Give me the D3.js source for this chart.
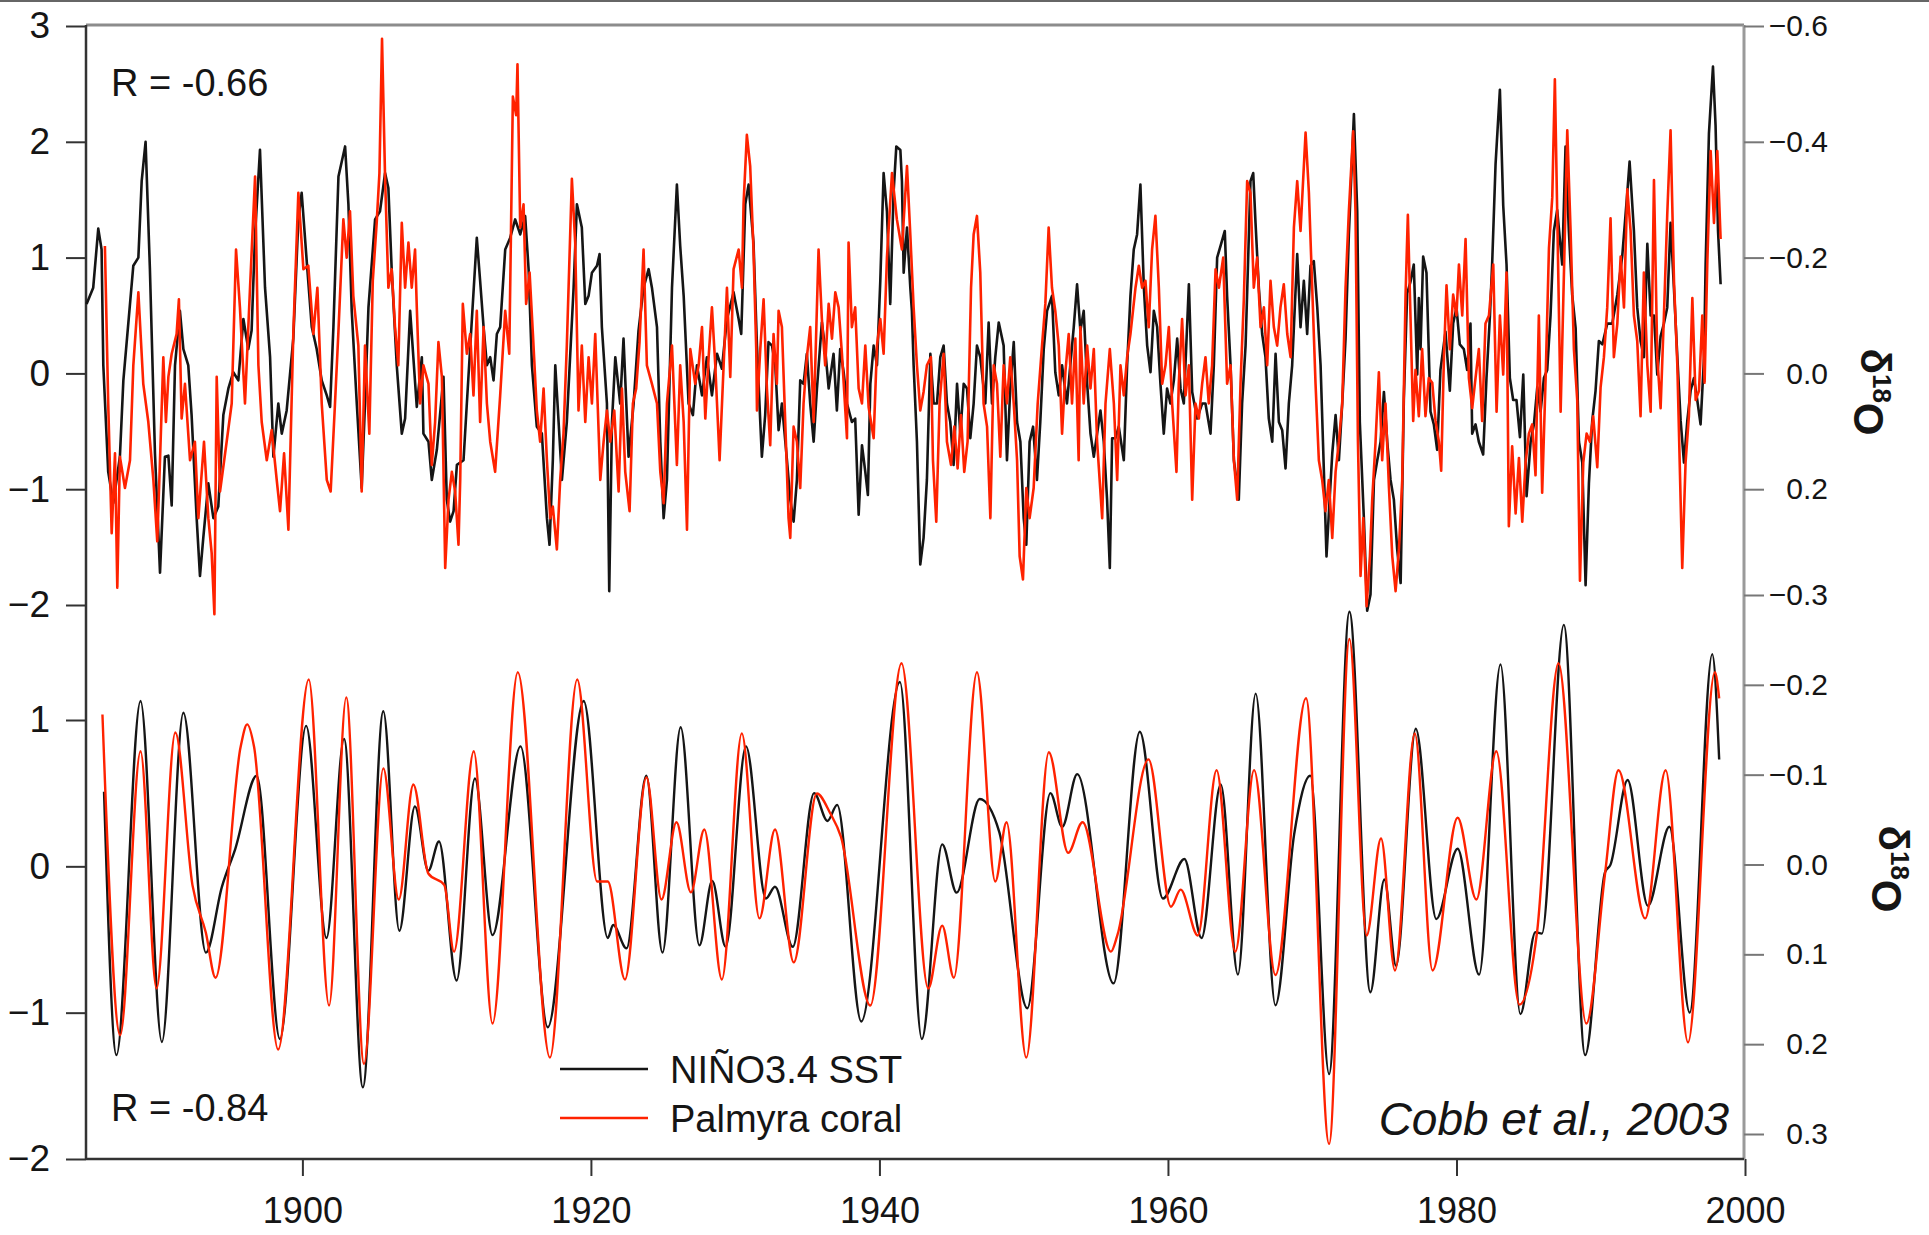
<!DOCTYPE html>
<html>
<head>
<meta charset="utf-8">
<script src="https://cdn.jsdelivr.net/npm/d3@7"></script>
<style>
  body { margin: 0; background: #fff; }
  svg { display: block; font-family: "Liberation Sans", Arial, sans-serif; }
</style>
</head>
<body>
<svg id="chart" width="1929" height="1235"></svg>
<script>
// NINO3.4 SST anomaly (monthly, top panel) - [year, degC]
var sstRaw = [[1885.04,0.60],[1885.50,0.74],[1885.85,1.25],[1886.08,1.07],[1886.20,0.07],[1886.54,-0.85],[1886.89,-1.12],[1887.35,-0.72],[1887.59,-0.06],[1888.28,0.93],[1888.63,1.00],[1888.86,1.66],[1889.13,2.00],[1889.43,0.90],[1889.78,-0.69],[1890.13,-1.72],[1890.47,-0.72],[1890.71,-0.71],[1890.94,-1.14],[1891.17,0.07],[1891.51,0.54],[1891.75,0.21],[1892.09,0.07],[1892.32,-0.36],[1892.67,-1.25],[1892.90,-1.75],[1893.13,-1.42],[1893.48,-0.95],[1893.83,-1.25],[1894.17,-1.15],[1894.52,-0.36],[1894.87,-0.13],[1895.21,0.01],[1895.56,-0.06],[1895.91,0.47],[1896.25,0.21],[1896.48,0.37],[1896.72,1.20],[1897.06,1.93],[1897.41,0.74],[1897.76,0.14],[1897.99,-0.72],[1898.33,-0.26],[1898.57,-0.52],[1898.91,-0.32],[1899.37,0.30],[1899.72,1.33],[1899.95,1.56],[1900.30,0.97],[1900.65,0.40],[1900.99,0.21],[1901.34,-0.06],[1901.69,-0.19],[1901.92,-0.29],[1902.15,0.40],[1902.50,1.70],[1902.96,1.96],[1903.19,1.46],[1903.42,0.54],[1903.77,-0.26],[1904.11,-0.99],[1904.34,-0.26],[1904.58,0.57],[1905.04,1.33],[1905.38,1.40],[1905.73,1.73],[1905.96,1.60],[1906.19,0.90],[1906.54,0.07],[1906.89,-0.52],[1907.12,-0.39],[1907.47,0.54],[1907.93,-0.29],
[1908.28,0.14],[1908.39,-0.52],[1908.74,-0.59],[1908.97,-0.92],[1909.32,-0.66],[1909.78,-0.03],[1910.01,-1.09],[1910.24,-1.28],[1910.48,-1.19],[1910.71,-0.79],[1911.17,-0.75],[1911.40,-0.26],[1911.75,0.47],[1912.09,1.17],[1912.32,0.80],[1912.56,0.40],[1912.79,0.07],[1913.02,0.14],[1913.25,-0.06],[1913.48,0.34],[1913.71,0.40],[1914.06,1.07],[1914.40,1.17],[1914.75,1.33],[1915.10,1.20],[1915.44,1.36],[1915.68,0.90],[1915.91,0.07],[1916.25,-0.46],[1916.60,-0.52],[1916.95,-1.25],[1917.13,-1.48],[1917.36,-0.75],[1917.53,0.07],[1917.76,-0.42],[1917.99,-0.92],[1918.33,-0.42],[1918.80,0.74],[1919.03,1.46],[1919.37,1.26],[1919.61,0.60],[1919.84,0.67],[1920.07,0.87],[1920.42,0.93],[1920.60,1.03],[1920.76,0.40],[1921.11,-0.26],[1921.27,-1.88],[1921.46,-0.42],[1921.69,0.14],[1922.03,-0.26],[1922.26,0.30],[1922.61,-0.72],[1922.96,-0.26],[1923.30,0.37],[1923.65,0.74],[1924.00,0.90],[1924.23,0.74],[1924.58,0.40],[1924.81,-0.59],[1925.04,-1.25],[1925.27,-0.92],[1925.62,0.74],[1925.96,1.63],[1926.19,1.10],[1926.43,0.67],[1926.77,-0.26],[1927.07,-0.36],[1927.35,0.07],[1927.70,-0.19],[1928.04,0.14],[1928.39,-0.19],[1928.74,0.17],[1929.08,0.04],[1929.43,0.47],[1929.89,0.70],[1930.24,0.47],[1930.42,0.34],
[1930.70,1.46],[1930.93,1.63],[1931.27,1.13],[1931.51,0.24],[1931.74,-0.42],[1931.85,-0.72],[1932.08,-0.36],[1932.31,0.27],[1932.55,0.24],[1932.78,0.07],[1933.01,-0.49],[1933.24,-0.26],[1933.59,-0.75],[1933.82,-1.09],[1934.05,-1.28],[1934.28,-0.92],[1934.51,-0.06],[1934.74,-0.09],[1934.97,0.17],[1935.20,-0.26],[1935.44,-0.59],[1935.67,-0.13],[1936.01,0.44],[1936.24,0.21],[1936.48,-0.13],[1936.82,0.17],[1937.05,-0.32],[1937.28,0.21],[1937.52,0.01],[1937.75,-0.26],[1938.09,-0.42],[1938.32,-0.39],[1938.56,-1.22],[1938.79,-0.62],[1939.02,-0.85],[1939.20,-1.05],[1939.37,-0.09],[1939.60,0.24],[1939.83,0.07],[1940.06,0.80],[1940.29,1.73],[1940.52,1.40],[1940.75,0.60],[1940.98,1.56],[1941.17,1.96],[1941.45,1.93],[1941.56,1.66],[1941.68,0.87],[1941.91,1.26],[1942.14,0.74],[1942.25,0.54],[1942.37,0.07],[1942.60,-0.59],[1942.83,-1.65],[1943.06,-1.42],[1943.29,-0.92],[1943.53,0.17],[1943.76,-0.26],[1943.99,-0.26],[1944.22,0.14],[1944.45,0.24],[1944.68,-0.26],[1944.91,-0.42],[1945.14,-0.79],[1945.38,-0.09],[1945.61,-0.52],[1945.84,-0.09],[1946.07,-0.13],[1946.30,-0.56],[1946.53,-0.26],[1946.76,0.24],[1946.99,0.14],[1947.34,-0.26],[1947.57,0.44],[1947.80,-0.26],[1948.03,0.14],[1948.27,0.44],[1948.61,0.24],[1948.84,-0.75],[1949.07,-0.13],[1949.31,0.27],[1949.54,-0.42],[1949.77,-0.59],[1950.00,-1.25],[1950.18,-1.48],[1950.41,-0.59],[1950.65,-0.46],[1950.92,-0.92],[1951.15,-0.42],[1951.39,0.21],[1951.62,0.54],[1951.96,0.67],[1952.19,0.01],[1952.43,-0.19],[1952.66,0.07],[1953.00,-0.26],[1953.23,0.07],
[1953.47,0.40],[1953.70,0.77],[1953.93,0.37],[1954.16,0.54],[1954.40,-0.09],[1954.63,-0.52],[1954.86,-0.72],[1955.09,-0.52],[1955.32,-0.32],[1955.55,-0.59],[1955.78,-1.09],[1955.97,-1.68],[1956.13,-0.56],[1956.36,-0.56],[1956.59,-0.46],[1956.94,-0.75],[1957.17,0.07],[1957.40,0.67],[1957.63,1.07],[1957.86,1.20],[1958.09,1.63],[1958.33,0.74],[1958.56,0.24],[1958.79,0.01],[1959.02,0.54],[1959.25,0.40],[1959.48,-0.09],[1959.71,-0.52],[1959.94,-0.13],[1960.17,-0.26],[1960.41,-0.06],[1960.64,0.30],[1960.87,-0.13],[1961.10,-0.26],[1961.45,0.77],[1961.68,-0.16],[1962.02,-0.39],[1962.37,-0.26],[1962.60,-0.26],[1962.95,-0.52],[1963.18,0.07],[1963.41,1.00],[1963.64,1.10],[1963.94,1.23],[1964.10,0.67],[1964.34,0.07],[1964.57,-0.75],[1964.91,-1.09],[1965.14,-0.26],[1965.38,0.24],[1965.72,1.66],[1965.91,1.73],[1966.07,1.30],[1966.30,0.74],[1966.53,0.34],[1966.76,0.14],[1966.99,-0.39],[1967.23,-0.59],[1967.46,0.17],[1967.69,-0.42],[1967.92,-0.49],[1968.15,-0.82],[1968.38,-0.26],[1968.61,0.07],[1968.96,1.03],[1969.19,0.40],[1969.42,0.80],[1969.65,0.34],[1969.88,0.93],[1970.11,0.97],[1970.35,0.57],[1970.58,0.07],[1970.81,-0.85],[1970.99,-1.58],[1971.16,-1.19],[1971.39,-0.69],[1971.62,-0.36],[1971.85,-0.75],[1972.08,-0.26],[1972.31,0.30],[1972.54,1.20],[1972.89,2.24],[1973.12,1.40],[1973.30,-0.42],[1973.58,-1.25],[1973.81,-2.05],[1974.04,-1.91],[1974.28,-0.92],[1974.51,-0.75],[1974.74,-0.59],[1974.97,-0.16],[1975.20,-0.59],[1975.43,-0.92],[1975.66,-1.09],[1975.89,-1.52],[1976.13,-1.81],
[1976.35,-0.23],[1976.58,0.69],[1976.81,0.79],[1977.04,0.94],[1977.28,-0.01],[1977.39,0.65],[1977.51,0.21],[1977.69,1.01],[1977.92,0.87],[1978.20,-0.33],[1978.43,-0.44],[1978.66,-0.66],[1978.89,0.03],[1979.24,0.36],[1979.54,-0.15],[1979.77,0.43],[1980.00,0.57],[1980.23,0.25],[1980.51,0.21],[1980.74,0.03],[1980.97,0.43],[1981.09,-0.52],[1981.32,-0.44],[1981.55,-0.59],[1981.85,-0.70],[1982.08,-0.04],[1982.32,0.50],[1982.48,0.97],[1982.71,1.81],[1983.01,2.45],[1983.24,1.45],[1983.47,0.94],[1983.70,-0.04],[1983.93,-0.23],[1984.16,-0.23],[1984.40,-0.55],[1984.63,-0.01],[1984.86,-1.06],[1985.14,-0.59],[1985.37,-0.44],[1985.60,-0.12],[1985.83,-0.33],[1986.06,-0.04],[1986.29,0.03],[1986.52,0.50],[1986.75,1.23],[1986.98,1.41],[1987.33,0.94],[1987.56,1.96],[1987.79,1.23],[1988.02,0.68],[1988.26,0.39],[1988.49,-0.59],[1988.72,-0.77],[1988.95,-1.83],[1989.18,-0.95],[1989.41,-0.41],[1989.64,-0.15],[1989.87,0.28],[1990.11,0.25],[1990.45,0.43],[1990.80,0.43],[1991.15,0.68],[1991.49,1.01],[1991.84,1.56],[1992.00,1.83],[1992.30,1.23],[1992.53,0.57],[1992.76,0.28],[1992.99,0.14],[1993.23,1.12],[1993.46,0.50],[1993.69,0.50],[1993.92,-0.01],[1994.15,0.32],[1994.38,0.43],[1994.61,0.57],[1994.84,1.30],[1995.08,0.72],[1995.31,0.14],[1995.54,-0.41],[1995.77,-0.77],[1996.00,-0.41],[1996.23,-0.15],[1996.46,-0.04],[1996.69,-0.23],[1996.92,-0.44],[1997.16,0.14],[1997.27,0.94],[1997.50,2.07],[1997.78,2.65],[1997.96,2.14],[1998.13,1.23],[1998.31,0.77]];

// Palmyra coral d18O (top panel) - [year, permil]
var coralRaw = [[1886.31,-0.220],[1886.54,0.052],[1886.78,0.276],[1887.01,0.138],[1887.17,0.370],[1887.35,0.144],[1887.70,0.198],[1888.05,0.150],[1888.28,-0.014],[1888.63,-0.140],[1888.97,0.018],[1889.32,0.084],[1889.67,0.184],[1889.94,0.290],[1890.13,0.150],[1890.36,-0.028],[1890.54,0.084],[1890.71,0.006],[1890.94,-0.034],[1891.28,-0.068],[1891.44,-0.128],[1891.63,0.078],[1891.86,0.018],[1892.21,0.150],[1892.55,0.118],[1892.79,0.250],[1893.18,0.118],[1893.48,0.250],[1893.71,0.310],[1893.90,0.416],[1894.06,0.006],[1894.29,0.204],[1894.75,0.118],[1895.10,0.052],[1895.40,-0.214],[1895.67,-0.114],[1896.02,0.052],[1896.37,-0.148],[1896.72,-0.340],[1896.95,-0.014],[1897.18,0.084],[1897.53,0.150],[1897.87,0.098],[1898.22,0.184],[1898.45,0.238],[1898.73,0.138],[1899.03,0.270],[1899.37,-0.068],[1899.72,-0.312],[1900.07,-0.180],[1900.41,-0.186],[1900.76,-0.068],[1901.04,-0.148],[1901.34,0.052],[1901.69,0.184],[1901.96,0.204],[1902.26,0.052],[1902.49,-0.068],[1902.84,-0.266],[1903.07,-0.200],[1903.30,-0.280],[1903.53,-0.134],[1903.88,-0.048],[1904.11,0.204],[1904.34,-0.048],[1904.64,0.104],[1904.88,-0.160],[1905.15,-0.260],[1905.34,-0.346],[1905.52,-0.578],[1905.73,-0.340],[1905.96,-0.148],[1906.19,-0.180],[1906.42,-0.080],[1906.65,-0.014],[1906.89,-0.260],[1907.12,-0.148],[1907.35,-0.226],[1907.58,-0.148],[1907.81,-0.214],
[1907.93,-0.114],[1908.16,0.052],[1908.39,-0.014],[1908.74,0.018],[1908.97,0.158],[1909.20,0.084],[1909.43,-0.054],[1909.67,0.006],[1909.90,0.336],[1910.13,0.218],[1910.36,0.170],[1910.59,0.204],[1910.82,0.296],[1910.94,0.184],[1911.12,-0.120],[1911.40,-0.034],[1911.63,-0.068],[1911.86,0.038],[1912.09,-0.108],[1912.32,0.084],[1912.56,-0.080],[1912.79,0.052],[1913.02,0.118],[1913.36,0.170],[1913.71,0.038],[1914.06,-0.108],[1914.34,-0.034],[1914.59,-0.478],[1914.82,-0.446],[1914.91,-0.534],[1915.10,-0.252],[1915.33,-0.292],[1915.51,-0.120],[1915.75,-0.174],[1915.98,-0.068],[1916.25,0.064],[1916.48,0.118],[1916.72,0.026],[1916.95,0.150],[1917.18,0.250],[1917.36,0.230],[1917.64,0.304],[1917.87,0.184],[1918.10,0.104],[1918.33,-0.048],[1918.68,-0.336],[1918.91,-0.226],[1919.14,0.064],[1919.37,-0.048],[1919.61,0.084],[1919.84,-0.028],[1920.07,0.052],[1920.30,-0.068],[1920.65,0.184],[1920.88,0.118],[1921.11,0.064],[1921.34,0.118],[1921.62,0.064],[1921.92,0.204],[1922.15,0.026],[1922.38,0.170],[1922.68,0.238],[1922.91,0.052],[1923.14,0.026],[1923.37,-0.054],[1923.65,-0.214],[1923.88,-0.014],[1924.23,0.018],[1924.58,0.052],[1924.81,0.170],[1925.04,0.224],[1925.27,0.052],[1925.62,-0.048],[1925.96,0.158],[1926.19,-0.014],[1926.43,0.084],[1926.66,0.270],[1926.89,-0.042],[1927.23,0.018],[1927.47,-0.014],[1927.70,-0.080],[1927.93,0.078],[1928.16,-0.028],[1928.39,-0.114],[1928.62,-0.014],[1928.92,0.150],[1929.20,-0.014],[1929.43,-0.148],[1929.66,0.006],[1929.89,-0.180],[1930.24,-0.214],[1930.47,-0.148],
[1930.58,-0.292],[1930.81,-0.412],[1931.04,-0.358],[1931.27,-0.214],[1931.46,-0.042],[1931.51,0.064],[1931.74,-0.042],[1931.97,-0.128],[1932.20,0.026],[1932.43,0.124],[1932.66,-0.068],[1932.89,0.018],[1933.01,-0.108],[1933.24,-0.080],[1933.47,0.084],[1933.70,0.250],[1933.82,0.284],[1934.05,0.092],[1934.28,0.118],[1934.51,0.198],[1934.74,0.052],[1934.97,-0.028],[1935.20,-0.080],[1935.44,0.084],[1935.78,-0.214],[1936.01,-0.094],[1936.24,-0.014],[1936.48,-0.120],[1936.71,-0.060],[1936.94,-0.140],[1937.17,-0.114],[1937.40,-0.034],[1937.75,0.112],[1937.86,-0.226],[1938.09,-0.080],[1938.32,-0.114],[1938.56,0.026],[1938.79,0.052],[1939.02,-0.048],[1939.25,0.058],[1939.60,0.112],[1939.83,-0.048],[1940.06,-0.094],[1940.29,-0.034],[1940.52,-0.200],[1940.87,-0.346],[1941.21,-0.266],[1941.56,-0.214],[1941.91,-0.358],[1942.14,-0.240],[1942.37,-0.114],[1942.60,-0.014],[1942.83,0.064],[1943.06,0.032],[1943.29,-0.014],[1943.57,-0.028],[1943.71,0.150],[1943.94,0.256],[1944.17,0.052],[1944.45,-0.034],[1944.68,0.118],[1944.96,0.158],[1945.19,0.092],[1945.42,0.164],[1945.65,0.072],[1945.88,0.170],[1946.11,0.118],[1946.35,-0.148],[1946.53,-0.240],[1946.76,-0.272],[1946.99,-0.174],[1947.22,0.052],[1947.46,0.092],[1947.69,0.250],[1947.92,-0.014],[1948.15,0.018],[1948.38,0.144],[1948.61,-0.014],[1948.84,0.052],[1949.07,-0.028],[1949.31,0.052],[1949.54,0.150],[1949.72,0.316],[1949.95,0.356],[1950.18,0.198],[1950.41,0.250],[1950.69,0.198],[1950.97,0.052],[1951.27,-0.048],[1951.50,-0.120],[1951.73,-0.252],[1951.96,-0.148],[1952.19,-0.108],[1952.43,-0.048],[1952.66,0.104],[1952.89,-0.002],[1953.12,-0.068],[1953.35,0.052],[1953.58,-0.060],[1953.81,0.150],
[1953.93,-0.080],[1954.16,0.052],[1954.40,-0.048],[1954.63,0.026],[1954.86,-0.042],[1955.09,0.118],[1955.44,0.250],[1955.67,0.052],[1955.97,-0.042],[1956.25,0.052],[1956.48,0.184],[1956.71,-0.014],[1956.94,0.038],[1957.17,-0.028],[1957.40,-0.068],[1957.75,-0.148],[1957.98,-0.186],[1958.21,-0.148],[1958.44,-0.160],[1958.67,-0.080],[1958.90,-0.214],[1959.13,-0.272],[1959.37,-0.148],[1959.60,0.018],[1959.83,-0.014],[1960.06,-0.080],[1960.29,0.052],[1960.59,0.170],[1960.75,0.018],[1960.98,-0.094],[1961.22,0.038],[1961.45,-0.014],[1961.68,0.218],[1961.91,0.052],[1962.14,0.078],[1962.37,0.018],[1962.60,-0.028],[1962.83,0.052],[1963.06,-0.014],[1963.30,-0.180],[1963.53,-0.148],[1963.83,-0.200],[1964.10,0.018],[1964.34,-0.014],[1964.57,0.150],[1964.80,0.218],[1965.03,0.018],[1965.26,-0.128],[1965.49,-0.332],[1965.72,-0.312],[1965.95,-0.148],[1966.18,-0.200],[1966.42,-0.080],[1966.65,-0.114],[1966.88,-0.014],[1967.11,-0.160],[1967.34,-0.080],[1967.57,-0.048],[1967.80,-0.114],[1968.03,-0.154],[1968.27,-0.068],[1968.50,-0.028],[1968.73,-0.252],[1968.96,-0.332],[1969.19,-0.246],[1969.54,-0.416],[1969.77,-0.312],[1970.00,-0.148],[1970.23,0.018],[1970.46,0.150],[1970.69,0.184],[1970.92,0.238],[1971.15,0.184],[1971.39,0.284],[1971.62,0.170],[1971.85,0.118],[1972.08,0.052],[1972.31,-0.148],[1972.54,-0.280],[1972.84,-0.418],[1973.00,-0.280],[1973.17,0.118],[1973.35,0.350],[1973.54,0.250],[1973.77,0.402],[1974.00,0.316],[1974.16,0.218],[1974.39,0.118],[1974.62,-0.002],[1974.85,0.150],[1975.08,0.052],[1975.32,0.198],[1975.55,0.316],[1975.78,0.376],[1976.01,0.304],[1976.24,0.184],
[1976.47,-0.136],[1976.63,-0.274],[1976.81,-0.100],[1977.00,0.082],[1977.16,-0.006],[1977.39,0.074],[1977.62,-0.042],[1977.85,0.074],[1978.08,0.008],[1978.32,0.016],[1978.55,0.082],[1978.78,0.118],[1978.94,0.168],[1979.13,-0.028],[1979.31,-0.152],[1979.54,-0.042],[1979.77,-0.136],[1980.00,-0.100],[1980.17,-0.188],[1980.40,-0.100],[1980.63,-0.232],[1980.86,0.008],[1981.09,0.060],[1981.32,0.008],[1981.55,-0.042],[1981.78,0.082],[1982.01,-0.086],[1982.25,-0.100],[1982.55,-0.188],[1982.78,0.066],[1983.01,-0.100],[1983.24,0.002],[1983.47,-0.174],[1983.63,0.264],[1983.86,0.126],[1984.10,0.242],[1984.33,0.146],[1984.56,0.256],[1984.79,0.154],[1985.02,0.104],[1985.25,0.088],[1985.48,0.176],[1985.71,-0.100],[1985.94,0.206],[1986.18,0.008],[1986.41,-0.216],[1986.64,-0.304],[1986.82,-0.508],[1986.98,-0.282],[1987.22,0.066],[1987.45,-0.174],[1987.68,-0.420],[1987.91,-0.246],[1988.14,-0.042],[1988.37,0.046],[1988.56,0.358],[1988.79,0.154],[1989.02,0.104],[1989.25,0.118],[1989.48,0.074],[1989.76,0.162],[1989.99,0.024],[1990.22,-0.028],[1990.45,-0.114],[1990.68,-0.268],[1990.91,-0.028],[1991.15,-0.086],[1991.38,-0.202],[1991.61,-0.114],[1991.84,-0.318],[1992.07,-0.246],[1992.30,-0.100],[1992.53,-0.056],[1992.76,0.074],[1992.99,-0.174],[1993.23,-0.014],[1993.46,0.066],[1993.69,-0.334],[1993.92,-0.028],[1994.15,0.060],[1994.38,-0.100],[1994.61,-0.274],[1994.84,-0.420],[1995.08,-0.158],[1995.31,-0.014],[1995.65,0.336],[1995.88,0.154],[1996.11,0.074],[1996.35,-0.130],[1996.58,0.046],[1996.81,0.030],[1997.04,-0.100],[1997.20,0.016],[1997.39,-0.194],[1997.62,-0.384],[1997.85,-0.260],[1998.08,-0.384],[1998.31,-0.232]];

// 2-7 yr band-pass filtered records (bottom panel)
var sstFilt = [[1886.25,0.51],[1887.11,-1.29],[1888.78,1.13],[1890.26,-1.20],[1891.75,1.05],[1893.31,-0.59],[1894.42,-0.14],[1895.35,0.12],[1896.84,0.62],[1898.44,-1.18],[1900.26,0.96],[1901.67,-0.49],[1902.89,0.87],[1904.19,-1.51],[1905.61,1.06],[1906.72,-0.44],[1907.80,0.41],[1908.73,-0.03],[1909.47,0.17],[1910.69,-0.78],[1911.96,0.60],[1913.18,-0.47],[1915.12,0.82],[1917.01,-1.10],[1919.50,1.13],[1921.17,-0.49],[1921.54,-0.40],[1922.47,-0.56],[1923.84,0.62],[1924.96,-0.59],[1926.22,0.95],[1927.52,-0.54],[1928.41,-0.10],[1929.34,-0.55],[1930.75,0.82],[1932.13,-0.22],[1932.76,-0.14],[1933.99,-0.55],[1935.47,0.50],[1936.40,0.31],[1937.07,0.42],[1938.74,-1.06],[1941.42,1.26],[1942.94,-1.18],[1944.35,0.15],[1945.35,-0.18],[1946.95,0.46],[1948.32,0.23],[1950.25,-0.97],[1951.85,0.50],[1952.67,0.27],[1953.71,0.63],[1956.23,-0.80],[1958.05,0.92],[1959.65,-0.22],[1961.14,0.05],[1962.33,-0.49],[1963.66,0.56],[1964.85,-0.74],[1966.08,1.18],[1967.45,-0.95],[1968.75,0.22],[1969.87,0.62],[1971.17,-1.42],[1972.58,1.74],[1974.03,-0.86],[1975.00,-0.09],[1975.81,-0.68],[1977.18,0.94],[1978.60,-0.36],[1980.08,0.12],[1981.57,-0.74],[1983.05,1.38],[1984.43,-1.01],[1985.47,-0.45],[1985.92,-0.46],[1987.44,1.65],[1988.92,-1.29],[1990.30,-0.04],[1990.67,0.01],[1991.86,0.59],[1993.27,-0.27],[1994.76,0.27],[1996.17,-1.00],[1997.73,1.45],[1998.21,0.73]];

var coralFilt = [[1886.14,-0.167],[1887.37,0.190],[1888.78,-0.126],[1889.89,0.138],[1891.19,-0.147],[1892.38,0.023],[1893.31,0.076],[1893.98,0.126],[1895.72,-0.131],[1896.17,-0.156],[1896.65,-0.131],[1898.32,0.206],[1900.44,-0.206],[1901.85,0.157],[1903.04,-0.186],[1904.27,0.222],[1905.61,-0.107],[1906.68,0.039],[1907.69,-0.089],[1908.73,0.010],[1909.84,0.023],[1910.51,0.097],[1911.88,-0.126],[1913.18,0.177],[1914.93,-0.214],[1917.16,0.215],[1919.05,-0.206],[1920.43,0.019],[1921.17,0.019],[1922.36,0.128],[1923.85,-0.097],[1924.89,0.039],[1925.93,-0.047],[1926.93,0.031],[1927.86,-0.039],[1929.08,0.128],[1930.46,-0.146],[1931.68,0.060],[1932.76,-0.039],[1934.06,0.109],[1935.66,-0.079],[1936.59,-0.057],[1937.33,-0.031],[1939.37,0.157],[1941.53,-0.224],[1943.38,0.138],[1944.35,0.068],[1945.16,0.126],[1946.76,-0.214],[1948.03,0.019],[1948.81,-0.047],[1950.18,0.215],[1951.74,-0.125],[1953.08,-0.013],[1954.08,-0.047],[1956.05,0.097],[1956.49,0.079],[1958.65,-0.117],[1960.21,0.047],[1960.88,0.028],[1962.07,0.079],[1963.37,-0.105],[1964.67,0.097],[1965.97,-0.105],[1967.45,0.123],[1969.57,-0.185],[1971.17,0.311],[1972.58,-0.251],[1973.77,0.079],[1974.77,-0.029],[1975.74,0.118],[1977.11,-0.146],[1978.34,0.118],[1980.08,-0.052],[1981.38,0.039],[1982.76,-0.126],[1984.36,0.156],[1985.58,0.076],[1987.07,-0.224],[1989.00,0.177],[1990.30,0.010],[1991.23,-0.105],[1993.08,0.060],[1994.50,-0.105],[1996.05,0.198],[1997.91,-0.214],[1998.21,-0.185]];

var yearTicks = [1900, 1920, 1940, 1960, 1980, 2000];
var topLeftTicks = [3, 2, 1, 0, -1, -2];
var topRightTicks = [-0.6, -0.4, -0.2, 0.0, 0.2];
var botLeftTicks = [1, 0, -1, -2];
var botRightTicks = [-0.3, -0.2, -0.1, 0.0, 0.1, 0.2, 0.3];

var RED = '#ff2200', INK = '#151515';
var L = 86, R = 1744, TOP = 25, BOT = 1159;

var svg = d3.select('#chart');
svg.append('rect').attr('width', 1929).attr('height', 1235).attr('fill', '#fff');

var x = d3.scaleLinear().domain([1885, 2000]).range([L, 1745]);
var yTop = d3.scaleLinear().domain([-2, 3]).range([605, 26]);
var yTopR = d3.scaleLinear().domain([0.4, -0.6]).range([605, 26]);
var yBot = d3.scaleLinear().domain([-2, 1]).range([BOT, 720]);
var yBotR = d3.scaleLinear().domain([0.3, -0.3]).range([1134, 595]);

// frame
svg.append('line').attr('x1', 0).attr('x2', 1929).attr('y1', 1).attr('y2', 1)
  .attr('stroke', '#666').attr('stroke-width', 2);
svg.append('line').attr('x1', L).attr('x2', R).attr('y1', TOP).attr('y2', TOP)
  .attr('stroke', '#8c8c8c').attr('stroke-width', 3);
svg.append('line').attr('x1', R).attr('x2', R).attr('y1', TOP).attr('y2', BOT)
  .attr('stroke', '#9a9a9a').attr('stroke-width', 3);
svg.append('line').attr('x1', L).attr('x2', L).attr('y1', TOP).attr('y2', BOT)
  .attr('stroke', '#333').attr('stroke-width', 2.5);
svg.append('line').attr('x1', L).attr('x2', R).attr('y1', BOT).attr('y2', BOT)
  .attr('stroke', '#333').attr('stroke-width', 2.5);

function styleAxis(g, size, color) {
  g.select('.domain').remove();
  g.selectAll('.tick line').attr('stroke', color).attr('stroke-width', 2);
  g.selectAll('.tick text').attr('fill', INK).style('font-size', size + 'px')
    .style('font-family', '"Liberation Sans", Arial, sans-serif');
}

var gl1 = svg.append('g').attr('transform', 'translate(' + L + ',0)')
  .call(d3.axisLeft(yTop).tickValues(topLeftTicks).tickSize(20).tickPadding(16).tickFormat(d3.format('d')));
styleAxis(gl1, 37, '#333');
var gl2 = svg.append('g').attr('transform', 'translate(' + L + ',0)')
  .call(d3.axisLeft(yBot).tickValues(botLeftTicks).tickSize(20).tickPadding(16).tickFormat(d3.format('d')));
styleAxis(gl2, 37, '#333');

var gr1 = svg.append('g').attr('transform', 'translate(' + R + ',0)')
  .call(d3.axisRight(yTopR).tickValues(topRightTicks).tickSize(20).tickFormat(d3.format('.1f')));
styleAxis(gr1, 30, '#777');
gr1.selectAll('.tick text').attr('x', 84).attr('text-anchor', 'end');
var gr2 = svg.append('g').attr('transform', 'translate(' + R + ',0)')
  .call(d3.axisRight(yBotR).tickValues(botRightTicks).tickSize(20).tickFormat(d3.format('.1f')));
styleAxis(gr2, 30, '#777');
gr2.selectAll('.tick text').attr('x', 84).attr('text-anchor', 'end');

var gx = svg.append('g').attr('transform', 'translate(0,' + BOT + ')')
  .call(d3.axisBottom(x).tickValues(yearTicks).tickSize(17).tickPadding(21).tickFormat(d3.format('d')));
styleAxis(gx, 36, '#333');

// series
var lineTopS = d3.line().x(function (d) { return x(d[0]); }).y(function (d) { return yTop(d[1]); });
var lineTopC = d3.line().x(function (d) { return x(d[0]); }).y(function (d) { return yTopR(d[1]); });
var lineBotS = d3.line().curve(d3.curveMonotoneX)
  .x(function (d) { return x(d[0]); }).y(function (d) { return yBot(d[1]); });
var lineBotC = d3.line().curve(d3.curveMonotoneX)
  .x(function (d) { return x(d[0]); }).y(function (d) { return yBotR(d[1]); });

svg.append('path').datum(sstRaw).attr('d', lineTopS).attr('fill', 'none')
  .attr('stroke', INK).attr('stroke-width', 2.6).attr('stroke-linejoin', 'round');
svg.append('path').datum(coralRaw).attr('d', lineTopC).attr('fill', 'none')
  .attr('stroke', RED).attr('stroke-width', 2.6).attr('stroke-linejoin', 'round');
svg.append('path').datum(sstFilt).attr('d', lineBotS).attr('fill', 'none')
  .attr('stroke', INK).attr('stroke-width', 2.4);
svg.append('path').datum(coralFilt).attr('d', lineBotC).attr('fill', 'none')
  .attr('stroke', RED).attr('stroke-width', 2.4);

// annotations
function label(tx, ty, str, size, anchor, italic) {
  return svg.append('text').attr('x', tx).attr('y', ty).attr('fill', INK)
    .attr('text-anchor', anchor || 'start').style('font-size', size + 'px')
    .style('font-style', italic ? 'italic' : 'normal').text(str);
}
label(111, 96, 'R = -0.66', 38);
label(111, 1121, 'R = -0.84', 38);
label(1729, 1135, 'Cobb et al., 2003', 46, 'end', true);

// legend
var legend = [{name: 'NIÑO3.4 SST', color: INK, y: 1069}, {name: 'Palmyra coral', color: RED, y: 1118}];
legend.forEach(function (d) {
  svg.append('line').attr('x1', 560).attr('x2', 648).attr('y1', d.y).attr('y2', d.y)
    .attr('stroke', d.color).attr('stroke-width', 2.5);
  label(670, d.y + 14, d.name, 38);
});

// d18O axis titles
[[1876, 392], [1894, 869]].forEach(function (p) {
  var t = svg.append('text').attr('transform', 'translate(' + p[0] + ',' + p[1] + ') rotate(90)')
    .attr('text-anchor', 'middle').attr('dy', '0.35em').attr('fill', INK)
    .style('font-size', '42px').style('font-weight', 'bold');
  t.append('tspan').text('δ');
  t.append('tspan').attr('dy', '-0.45em').style('font-size', '26px').text('18');
  t.append('tspan').attr('dy', '0.45em').text('O');
});
</script>
</body>
</html>
